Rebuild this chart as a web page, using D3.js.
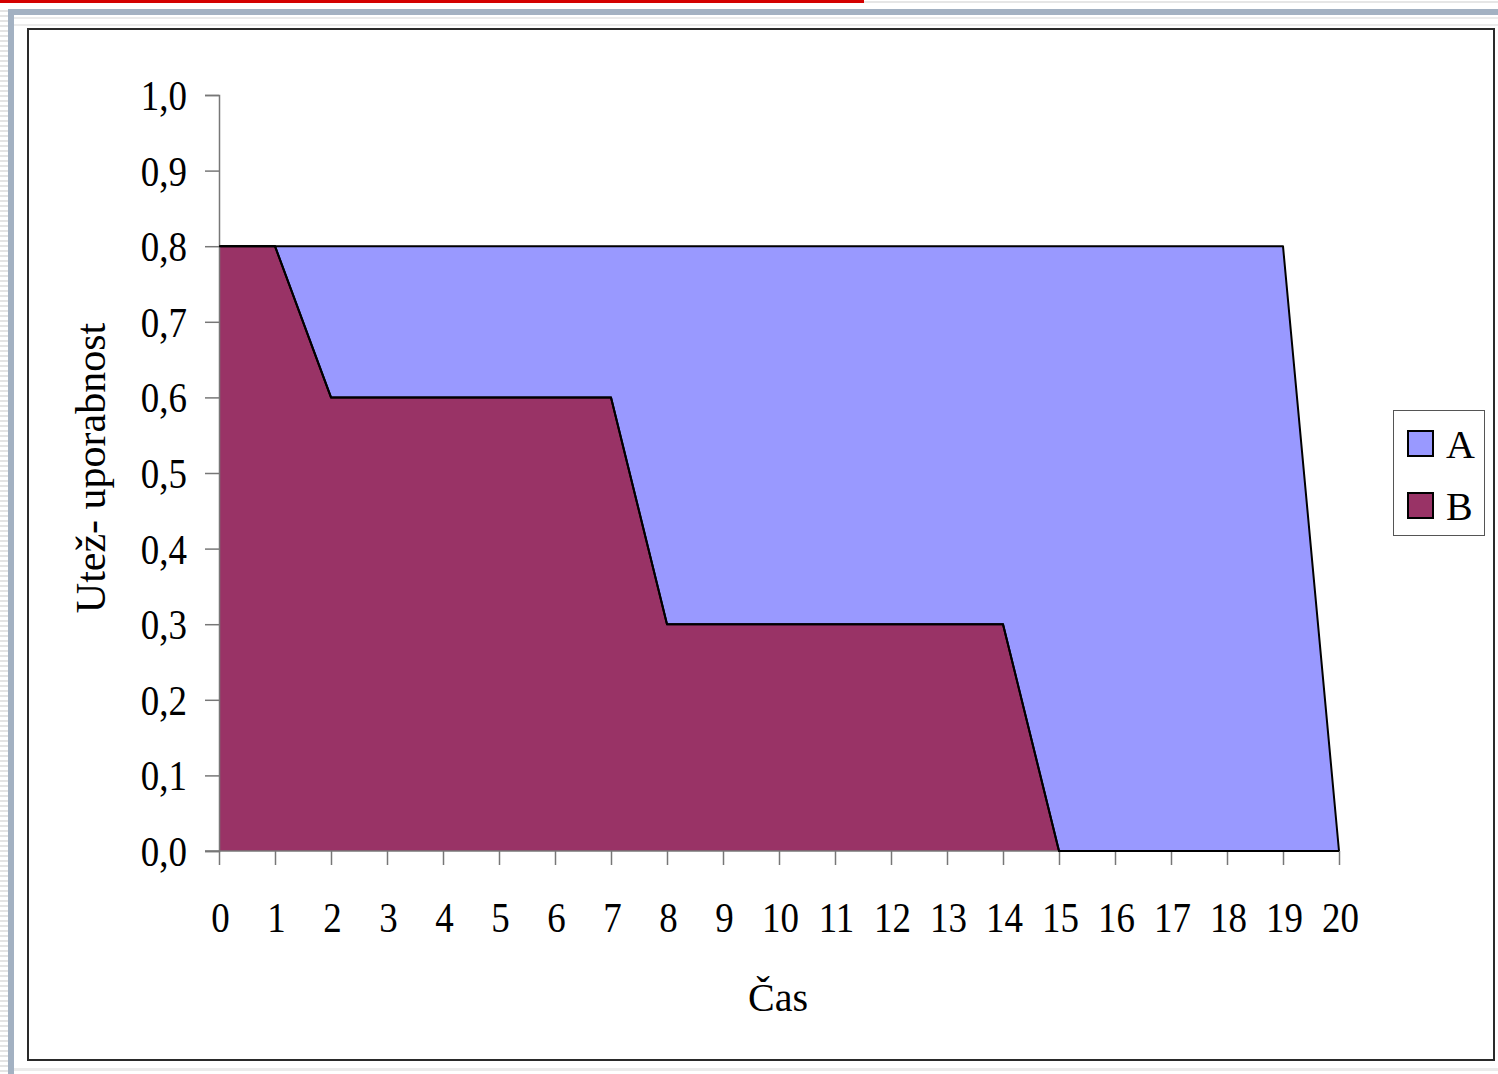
<!DOCTYPE html>
<html><head><meta charset="utf-8">
<script src="https://cdn.jsdelivr.net/npm/d3@7/dist/d3.min.js"></script>
<style>html,body{margin:0;padding:0;background:#fff;overflow:hidden}</style>
</head><body>
<script>
const xValues = [0,1,2,3,4,5,6,7,8,9,10,11,12,13,14,15,16,17,18,19,20];
const seriesA = [0.8,0.8,0.8,0.8,0.8,0.8,0.8,0.8,0.8,0.8,0.8,0.8,0.8,0.8,0.8,0.8,0.8,0.8,0.8,0.8,0];
const seriesB = [0.8,0.8,0.6,0.6,0.6,0.6,0.6,0.6,0.3,0.3,0.3,0.3,0.3,0.3,0.3,0,0,0,0,0,0];
const seriesNames = ["A","B"];
const seriesColors = ["#9999FF","#993366"];
const yTicks = [0,0.1,0.2,0.3,0.4,0.5,0.6,0.7,0.8,0.9,1.0];
const xLabel = "Čas";
const yLabel = "Utež- uporabnost";

const W = 1498, H = 1074;
const svg = d3.select("body").append("svg").attr("width", W).attr("height", H);
const defs = svg.append("defs");
const pat = defs.append("pattern").attr("id","stripes").attr("width",6).attr("height",5).attr("patternUnits","userSpaceOnUse");
pat.append("rect").attr("width",6).attr("height",5).attr("fill","#fff");
pat.append("rect").attr("y",0).attr("width",6).attr("height",2).attr("fill","#e4e4e4");

// background decoration
svg.append("rect").attr("width",W).attr("height",H).attr("fill","url(#stripes)");
svg.append("rect").attr("x",0).attr("y",0).attr("width",W).attr("height",9).attr("fill","#fff");
svg.append("rect").attr("x",0).attr("y",1).attr("width",W).attr("height",2).attr("fill","#e6e6e6");
svg.append("rect").attr("x",0).attr("y",0).attr("width",864).attr("height",3).attr("fill","#d40000");
svg.append("rect").attr("x",14).attr("y",15).attr("width",W-14).attr("height",H-15).attr("fill","#fff");
svg.append("rect").attr("x",14).attr("y",17).attr("width",W-14).attr("height",2).attr("fill","#ebebeb");
svg.append("rect").attr("x",14).attr("y",24).attr("width",W-14).attr("height",2).attr("fill","#ebebeb");
svg.append("rect").attr("x",14).attr("y",1068).attr("width",W-14).attr("height",3).attr("fill","#ebebeb");
svg.append("rect").attr("x",8).attr("y",9).attr("width",W-8).attr("height",6).attr("fill","#a3b1c2");
svg.append("rect").attr("x",8).attr("y",9).attr("width",6).attr("height",H-9).attr("fill","#a3b1c2");

// chart frame
svg.append("rect").attr("x",28).attr("y",29).attr("width",1466).attr("height",1031)
  .attr("fill","#fff").attr("stroke","#2a2a2a").attr("stroke-width",2);

const x = d3.scaleLinear().domain([0,20]).range([219,1339]);
const y = d3.scaleLinear().domain([0,1]).range([851,95]);

const font = "'Liberation Serif','Times New Roman',serif";

const dataA = xValues.map((v,i)=>({x:v,y:seriesA[i]}));
const dataB = xValues.map((v,i)=>({x:v,y:seriesB[i]}));
const area = d3.area().x(d=>x(d.x)).y0(y(0)).y1(d=>y(d.y));
const line = d3.line().x(d=>x(d.x)).y(d=>y(d.y));

[dataA,dataB].forEach((d,i)=>{
  svg.append("path").datum(d).attr("d",area).attr("fill",seriesColors[i]);
  svg.append("path").datum(d).attr("d",line).attr("fill","none").attr("stroke","#000").attr("stroke-width",2).attr("stroke-linejoin","round");
});

// axes
const yAxis = svg.append("g").attr("transform",`translate(219,0)`)
  .call(d3.axisLeft(y).tickValues(yTicks).tickSize(14).tickPadding(32)
        .tickFormat(d=>d3.format(".1f")(d).replace(".",",")));
const xAxis = svg.append("g").attr("transform",`translate(0,851)`)
  .call(d3.axisBottom(x).tickValues(xValues).tickSize(14).tickPadding(36).tickFormat(d=>d));
[yAxis,xAxis].forEach(g=>{
  g.select(".domain").attr("stroke","#777").attr("stroke-width",1.5);
  g.selectAll(".tick line").attr("stroke","#777").attr("stroke-width",1.5);
});
yAxis.selectAll(".tick text").each(function(){
  const t = d3.select(this);
  t.attr("x",null).attr("dy",null).attr("text-anchor","end")
   .attr("transform","translate(-32,14.5) scale(0.88,1)")
   .attr("fill","#000").style("font-family",font).style("font-size","42px");
});
xAxis.selectAll(".tick text").each(function(){
  const t = d3.select(this);
  t.attr("y",null).attr("dy",null).attr("text-anchor","middle")
   .attr("transform","translate(1,81) scale(0.88,1)")
   .attr("fill","#000").style("font-family",font).style("font-size","42px");
});
xAxis.select(".domain").remove();
svg.append("line").attr("x1",205).attr("x2",1339).attr("y1",851).attr("y2",851).attr("stroke","#777").attr("stroke-width",1.5);
svg.append("path").datum(dataB).attr("d",line).attr("fill","none").attr("stroke","#000").attr("stroke-width",2);

// axis titles
svg.append("text").attr("x",778).attr("y",1011).attr("text-anchor","middle")
  .style("font-family",font).style("font-size","40px").text(xLabel);
svg.append("text").attr("transform","translate(105,468) rotate(-90)").attr("text-anchor","middle")
  .style("font-family",font).style("font-size","42px").text(yLabel);

// legend
const lg = svg.append("g");
lg.append("rect").attr("x",1393.5).attr("y",410.5).attr("width",91).attr("height",125).attr("fill","#fff").attr("stroke","#555").attr("stroke-width",1);
seriesNames.forEach((n,i)=>{
  const yy = 431 + i*62;
  lg.append("rect").attr("x",1408).attr("y",yy).attr("width",25).attr("height",25)
    .attr("fill",seriesColors[i]).attr("stroke","#000").attr("stroke-width",2);
  lg.append("text").attr("x",1446).attr("y",yy+27).style("font-family",font).style("font-size","40px").text(n);
});
</script>
</body></html>
